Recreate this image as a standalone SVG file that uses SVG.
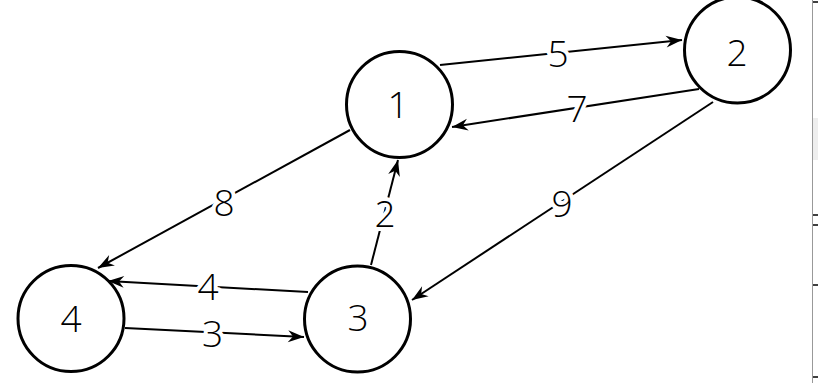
<svg xmlns="http://www.w3.org/2000/svg" width="818" height="383" viewBox="0 0 818 383">
<style>
.node circle{fill:#fff;stroke:#000;stroke-width:3}
.node text{font-family:"Open Sans","Noto Sans",sans-serif;font-weight:350;font-size:37px;text-anchor:middle;fill:#000}
.edge line{stroke:#000;stroke-width:2;marker-end:url(#arr)}
.lbl{font-family:"Open Sans","Noto Sans",sans-serif;font-weight:350;font-size:37px;text-anchor:middle;fill:#000;stroke:#fff;stroke-width:8;stroke-linejoin:round;paint-order:stroke}
</style>
<defs>
<marker id="arr" markerUnits="userSpaceOnUse" markerWidth="18" markerHeight="14" refX="17" refY="7" orient="auto" viewBox="0 0 18 14">
<path d="M1,1 L17,7 L1,13 L6,7 Z" fill="#000"/>
</marker>
</defs>
<rect width="818" height="383" fill="#fff"/>
<g id="frame">
<rect x="813" y="118" width="5" height="42" fill="#eee"/>
<line x1="812.5" y1="0" x2="812.5" y2="383" stroke="#999" stroke-width="1"/>
<g stroke="#000" stroke-width="1.5">
<line x1="813" y1="2" x2="818" y2="2"/>
<line x1="813" y1="215" x2="818" y2="215"/>
<line x1="813" y1="225" x2="818" y2="225"/>
<line x1="813" y1="285" x2="818" y2="285"/>
<line x1="813" y1="377" x2="818" y2="377"/>
</g>
</g>
<g id="connectors" class="edge">
<g id="e12"><line x1="440" y1="65" x2="682" y2="40"/><text class="lbl" x="558" y="67">5</text></g>
<g id="e21"><line x1="699" y1="89" x2="452" y2="127"/><text class="lbl" x="577" y="122">7</text></g>
<g id="e14"><line x1="350" y1="130" x2="98" y2="268"/><text class="lbl" x="224" y="216">8</text></g>
<g id="e23"><line x1="713" y1="102" x2="412" y2="300"/><text class="lbl" x="562" y="217">9</text></g>
<g id="e34"><line x1="308" y1="292" x2="108" y2="281"/><text class="lbl" x="208" y="300">4</text></g>
<g id="e43"><line x1="125" y1="328" x2="304" y2="337"/><text class="lbl" x="212.5" y="347">3</text></g>
<g id="e31"><line x1="371" y1="265" x2="398" y2="160"/><text class="lbl" x="385" y="227">2</text></g>
</g>
<g id="node1" class="node"><circle cx="399.5" cy="104.5" r="53"/><text x="398" y="118">1</text></g>
<g id="node2" class="node"><circle cx="737.5" cy="50" r="53"/><text x="737" y="66">2</text></g>
<g id="node3" class="node"><circle cx="357.5" cy="319" r="53"/><text x="358" y="331">3</text></g>
<g id="node4" class="node"><circle cx="71" cy="318.5" r="53"/><text x="71" y="332">4</text></g>
</svg>
